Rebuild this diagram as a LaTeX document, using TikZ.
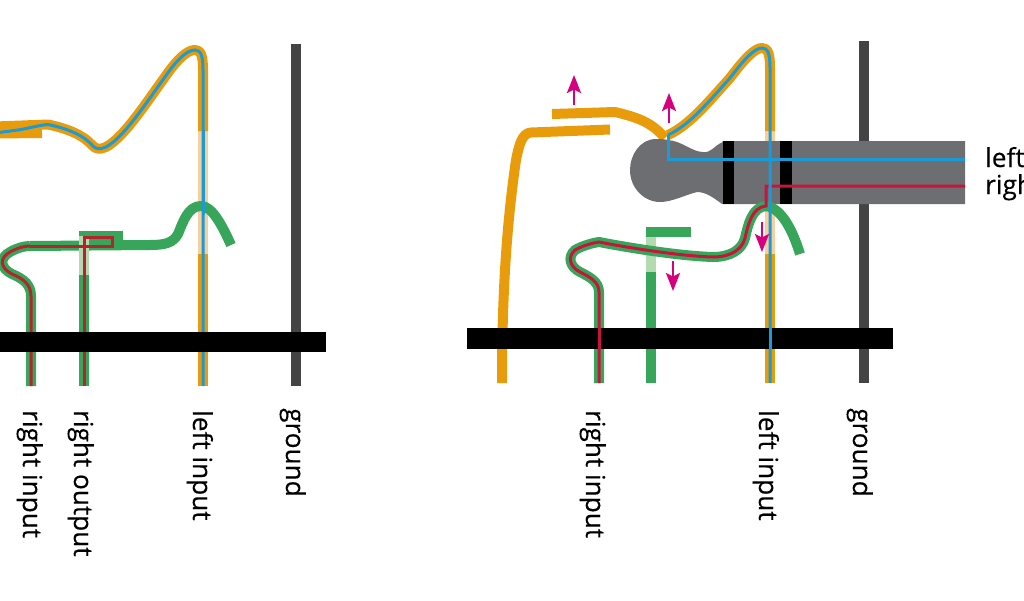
\documentclass[tikz,border=0pt]{standalone}
\usepackage{fontspec}
\setmainfont{Open Sans}
\newfontfamily\labfont{Open Sans}[FakeBold=0.25]
\usetikzlibrary{arrows.meta}
\definecolor{org}{HTML}{E89C0C}
\definecolor{orgp}{HTML}{F6CF9A}
\definecolor{grn}{HTML}{37A65A}
\definecolor{grnp}{HTML}{B4DBB0}
\definecolor{blu}{HTML}{1B9AD6}
\definecolor{redw}{HTML}{C8143C}
\definecolor{redd}{HTML}{B5232F}
\definecolor{gnd}{HTML}{444444}
\definecolor{plug}{HTML}{6D6E71}
\definecolor{mag}{HTML}{D6007F}
\tikzset{
  wire/.style={line width=10pt,line cap=butt,line join=round},
  thin wire/.style={line width=3pt,line cap=butt,line join=miter},
  pull/.style={mag,line width=2.5pt,-{Stealth[length=18pt,width=14pt,inset=3.5pt]}},
  lab/.style={rotate=-90,anchor=base west,inner sep=0pt,font=\labfont\fontsize{26.2}{30}\selectfont,text=black},
  lab2/.style={anchor=base west,inner sep=0pt,font=\labfont\fontsize{26.2}{30}\selectfont,text=black}
}
\newcommand{\LeftOrange}{(48,124.5) .. controls (65,128) and (82,134) .. (92,145) .. controls (95,149) and (100,150) .. (106,147) .. controls (125,137) and (150,97) .. (170,70) .. controls (182,54) and (190,50) .. (195,50) .. controls (201,50) and (203,56) .. (203,70)}
\newcommand{\LeftGreen}{(31,386) -- (31,296) .. controls (31,285) and (24,279) .. (12,274) .. controls (0,268) and (-1,258) .. (10,252) .. controls (17,248) and (24,246) .. (30,246)}
\newcommand{\RightOrange}{(668,135) .. controls (690,125) and (710,100) .. (730,78) .. controls (745,58) and (755,48) .. (762,48) .. controls (768,48) and (770,54) .. (770,68)}
\newcommand{\RightGreen}{(599,383) -- (599,292) .. controls (599,282) and (590,277) .. (580,272) .. controls (570,267) and (567,257) .. (575,250) .. controls (582,246) and (592,243) .. (599,242) .. controls (630,248) and (680,256) .. (713,257) .. controls (730,257) and (742,250) .. (745,238) .. controls (748,225) and (752,207) .. (766,206)}
\begin{document}
\begin{tikzpicture}[x=1pt,y=-1pt]
\useasboundingbox (0,0) rectangle (1024,600);
% ---------- left panel
\draw[wire,gnd] (296,44) -- (296,386);
\draw[wire,orgp] (203,130) -- (203,255);
\draw[wire,org] (203,254) -- (203,386);
\draw[wire,org] (-5,126.5) -- \LeftOrange -- (203,131);
\draw[wire,org] (-5,133.5) -- (42,133);
\draw[thin wire,blu] (-5,133) -- (18,130) .. controls (30,128) and (40,125) .. \LeftOrange -- (203,386);
\draw[wire,grn] (231,245) .. controls (222,225) and (212,206) .. (201,206) .. controls (188,206) and (183,222) .. (178,234) .. controls (173,243) and (165,245) .. (150,245) -- (30,246);
\draw[wire,grn] \LeftGreen;
\draw[wire,grn] (79,236) -- (123,236);
\draw[wire,grnp] (84,236) -- (84,276);
\draw[wire,grn] (84,275) -- (84,386);
\draw[thin wire,redd] (84,386) -- (84,237) -- (112,237) -- (112,246) -- (30,246);
\draw[thin wire,redd] \LeftGreen;
\draw[thin wire,blu] (203,130) -- (203,215);
\fill[black] (-5,332) rectangle (326,352);
% ---------- right panel
\draw[wire,gnd] (864,41) -- (864,383);
\draw[wire,org] (502,383) .. controls (502,310) and (505,235) .. (516,160) .. controls (519,145) and (522,133) .. (531,132.5) -- (610,129.5);
\draw[wire,org] (552,114) -- (615,112) .. controls (640,118) and (652,123) .. (665,138);
\draw[wire,orgp] (770,130) -- (770,255);
\draw[wire,org] (770,254) -- (770,383);
\draw[wire,org] \RightOrange -- (770,131);
\path[fill=plug] (722,141) -- (723,142) .. controls (713,146) and (712,153) .. (703,152) .. controls (692,152) and (682,141) .. (668,140) .. controls (664,139) and (660,139) .. (656,139) .. controls (640,139) and (630,155) .. (630,170) .. controls (630,188) and (644,202) .. (660,202) .. controls (672,202) and (685,195) .. (697,192) .. controls (706,192) and (714,198) .. (722,204) -- (965,204) -- (965,141) -- cycle;
\fill[black] (723,141) rectangle (734,204);
\fill[black] (780,141) rectangle (792,204);
\draw[thin wire,blu] (668,135) -- (668,159) -- (965,159);
\draw[wire,grn] (651,383) -- (651,271);
\draw[wire,grnp] (651,272) -- (651,235);
\draw[wire,grn] (646,232) -- (691,232);
\draw[wire,grn] (764,206) .. controls (780,206) and (792,228) .. (800,254);
\draw[wire,grn] \RightGreen;
\draw[thin wire,redw] \RightGreen -- (766,186) -- (965,186);
\draw[thin wire,blu] \RightOrange -- (770,383);
\fill[black] (467,328) rectangle (893,349);
\draw[thin wire,redw] (599,328) -- (599,349);
\draw[thin wire,blu] (770,328) -- (770,349);
\draw[pull] (574,105) -- (574,75);
\draw[pull] (669,123) -- (669,93);
\draw[pull] (762,222) -- (762,252);
\draw[pull] (673,261) -- (673,291);
% ---------- labels
\node[lab] (l1) at (23,410) {right input};
\node[lab] (l2) at (74,410) {right output};
\node[lab] (l3) at (193,410) {left input};
\node[lab] (l4) at (286,408) {ground};
\node[lab] (r1) at (586,410) {right input};
\node[lab] (r2) at (759,410) {left input};
\node[lab] (r3) at (853,408) {ground};
\node[lab2] (r4) at (985,167) {left};
\node[lab2] (r5) at (985,194) {right};
\end{tikzpicture}
\end{document}
